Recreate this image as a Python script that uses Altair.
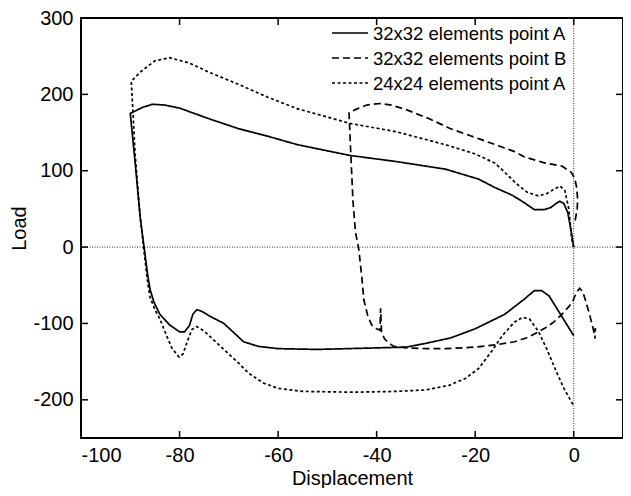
import altair as alt
import pandas as pd

series_names = ["32x32 elements point A", "32x32 elements point B", "24x24 elements point A"]

# 32x32 elements, point A (solid)
a32_x = [0, -0.5, -1.2, -2.0, -2.8, -3.6, -4.6, -6, -8, -10, -12.5, -16, -19.3, -26, -36, -45.4,
         -56, -62, -68, -74, -80, -83, -85.5, -87.5, -90,
         -89, -88, -87.2, -86.5, -86, -85.2, -84, -82, -80, -79, -78, -77.3, -76.5, -75.5, -74,
         -71, -69, -67, -64, -60, -52, -40, -34, -30, -25, -20, -14, -10, -8, -6.5, -5, -2.5, 0]
a32_y = [0, 20, 45, 57, 60, 57, 52, 49, 49, 58, 68, 78, 89, 102, 112, 120,
         134, 145, 155, 168, 182, 186, 187, 183, 175,
         110, 40, 0, -35, -55, -72, -88, -102, -111, -111, -103, -88, -82, -84, -90,
         -100, -112, -124, -130, -133, -134, -132, -131, -126, -119, -107, -88, -68, -57, -57, -64, -90, -116]

# 32x32 elements, point B (dashed)
b32_x = [0.3, 0.7, 0.8, 0.6, 0.2, -0.5, -2.4, -5.8, -10, -12, -15, -19.3, -25, -29.3, -34, -37, -39.4,
         -42, -44, -45.6,
         -45.3, -44.8, -44.3, -43.6, -43, -42.6, -41.8, -41, -40, -39.3, -39.2, -39, -38.4, -37.5,
         -36.5, -34, -30, -25.9, -20, -15.9, -12, -9.2, -7.2, -5.8, -4, -2.4, -1, -0.2, 0.5, 1.2,
         1.8, 2.4, 3.2, 3.8, 4.2, 4.4, 4.3]
b32_y = [35, 50, 62, 78, 90, 98, 106, 110, 118, 125, 132, 142, 155, 168, 180, 186, 188,
         186, 181, 176,
         130, 60, 20, -4, -40, -69, -90, -102, -107, -109, -80, -112, -120, -126,
         -130, -132, -133, -133, -131, -128, -124, -118, -111, -106, -98, -88, -78, -71, -60, -54,
         -58, -70, -88, -103, -114, -106, -120]

# 24x24 elements, point A (dotted)
a24_x = [0, -0.4, -1.0, -1.8, -2.8, -4.2, -5.5, -7.2, -9.5, -11.8, -14, -16, -20, -26, -36, -45.4,
         -56, -62, -68, -74, -78, -82, -85, -88, -89.8,
         -89.5, -89, -88, -87.3, -86.5, -86, -85, -84, -82.5, -81.5, -80.1, -79.3, -78.5, -77.5,
         -76.5, -75, -73, -70.7, -68, -66, -63, -60, -55, -45, -36, -30, -25.3, -22, -19.3,
         -16.5, -14.5, -12, -10.4, -9, -7.2, -5.5, -3.8, -2, 0]
a24_y = [0, 10, 50, 74, 80, 75, 70, 67, 72, 84, 98, 110, 122, 134, 151, 162,
         181, 196, 213, 229, 241, 248, 244, 229, 217,
         182, 120, 40, 0, -45, -65, -82, -94, -118, -133, -144, -140, -125, -108,
         -104, -110, -122, -136, -152, -165, -178, -185, -189, -190, -189, -187, -181, -172, -159,
         -135, -116, -98, -92, -94, -110, -133, -159, -185, -208]

x_ticks = [-100, -80, -60, -40, -20, 0]
y_ticks = [-200, -100, 0, 100, 200, 300]
dashes = [[1, 0], [7, 4], [3, 2.5]]

rows = []
for name, xs, ys in zip(series_names, [a32_x, b32_x, a24_x], [a32_y, b32_y, a24_y]):
    for i, (x, y) in enumerate(zip(xs, ys)):
        rows.append({"series": name, "step": i, "disp": x, "load": y})
df = pd.DataFrame(rows)

W, H = 542, 420
TL = 7
FONT = "Liberation Sans"

xscale = alt.Scale(domain=[-100, 10], nice=False, zero=False)
yscale = alt.Scale(domain=[-250, 300], nice=False, zero=False)
axis_style = dict(ticks=False, tickSize=0, domain=False, grid=False,
                  labelFont=FONT, titleFont=FONT, labelFontSize=20, titleFontSize=20,
                  labelColor="black", titleColor="black", titleFontWeight="normal",
                  labelExpr="'' + datum.value")
xaxis = alt.Axis(values=x_ticks, title="Displacement", labelPadding=7, titlePadding=3, **axis_style)
yaxis = alt.Axis(values=y_ticks, title="Load", labelPadding=8, titlePadding=3, **axis_style)

lines = alt.Chart(df).mark_line(color="black", strokeWidth=1.7).encode(
    x=alt.X("disp:Q", scale=xscale, axis=xaxis),
    y=alt.Y("load:Q", scale=yscale, axis=yaxis),
    strokeDash=alt.StrokeDash("series:N",
                              scale=alt.Scale(domain=series_names, range=dashes),
                              legend=None),
    order="step:Q",
)

zero_df = pd.DataFrame({"v": [0]})
zero_h = alt.Chart(zero_df).mark_rule(color="#333", strokeWidth=1, strokeDash=[1, 1.5]).encode(
    y=alt.Y("v:Q", scale=yscale, axis=yaxis))
zero_v = alt.Chart(zero_df).mark_rule(color="#333", strokeWidth=1, strokeDash=[1, 1.5]).encode(
    x=alt.X("v:Q", scale=xscale, axis=xaxis))

xt = pd.DataFrame({"t": x_ticks})
yt = pd.DataFrame({"t": y_ticks})
tick_bottom = alt.Chart(xt).mark_rule(color="black", strokeWidth=1.5).encode(
    x=alt.X("t:Q", scale=xscale, axis=xaxis), y=alt.value(H), y2=alt.value(H - TL))
tick_top = alt.Chart(xt).mark_rule(color="black", strokeWidth=1.5).encode(
    x=alt.X("t:Q", scale=xscale, axis=xaxis), y=alt.value(0), y2=alt.value(TL))
tick_left = alt.Chart(yt).mark_rule(color="black", strokeWidth=1.5).encode(
    y=alt.Y("t:Q", scale=yscale, axis=yaxis), x=alt.value(0), x2=alt.value(TL))
tick_right = alt.Chart(yt).mark_rule(color="black", strokeWidth=1.5).encode(
    y=alt.Y("t:Q", scale=yscale, axis=yaxis), x=alt.value(W), x2=alt.value(W - TL))

# legend (inside the plot, top right)
LEG_X, LEG_Y, LEG_ROW, LEG_LEN = 251, 15, 25, 36
legend_layers = []
for i, (name, dash) in enumerate(zip(series_names, dashes)):
    ldf = pd.DataFrame({"label": [name]})
    yy = LEG_Y + i * LEG_ROW
    legend_layers.append(
        alt.Chart(ldf).mark_rule(color="black", strokeWidth=1.7, strokeDash=dash).encode(
            x=alt.value(LEG_X), x2=alt.value(LEG_X + LEG_LEN), y=alt.value(yy))
    )
    legend_layers.append(
        alt.Chart(ldf).mark_text(align="left", baseline="middle", font=FONT, fontSize=18.5,
                                 color="black").encode(
            x=alt.value(LEG_X + LEG_LEN + 5), y=alt.value(yy + 1), text="label:N")
    )

chart = alt.layer(zero_h, zero_v, lines, tick_bottom, tick_top, tick_left, tick_right,
                  *legend_layers).properties(
    width=W, height=H,
    background="white",
    autosize=alt.AutoSizeParams(type="none"),
    padding={"left": 73, "top": 10, "right": 0, "bottom": 50},
).configure_view(stroke="black", strokeWidth=2)

chart.save("out.html", embed_options={"renderer": "svg", "actions": False})
